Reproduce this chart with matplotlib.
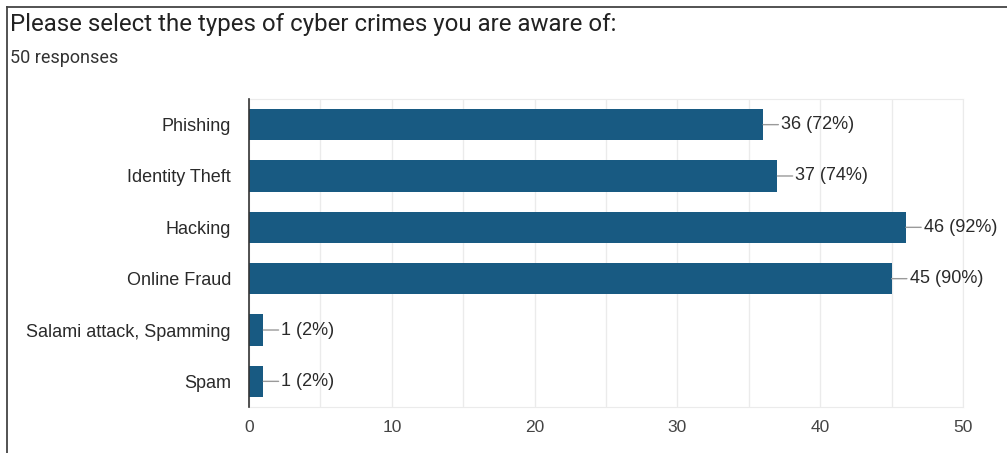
import matplotlib.pyplot as plt
from matplotlib.lines import Line2D

categories = ['Phishing', 'Identity Theft', 'Hacking', 'Online Fraud',
              'Salami attack, Spamming', 'Spam']
counts = [36, 37, 46, 45, 1, 1]
total = 50
xticks = [0, 10, 20, 30, 40, 50]

bar_color = '#185a82'
label_font = ['Liberation Sans', 'DejaVu Sans']

fig = plt.figure(figsize=(10.07, 4.53), dpi=100)
ax = fig.add_axes([0.2473, 0.1015, 0.709, 0.68])

ypos = list(range(len(categories)))
ax.barh(ypos, counts, height=0.61, color=bar_color, zorder=3)

# count + percentage labels with a short leader line
for y, c in zip(ypos, counts):
    ax.annotate(f'{c} ({round(100 * c / total)}%)', xy=(c, y), xytext=(13, 0),
                textcoords='offset points', ha='left', va='center',
                fontsize=13, color='#2a2a2a', family=label_font,
                arrowprops=dict(arrowstyle='-', color='#9a9a9a', lw=1.0,
                                shrinkA=0, shrinkB=0, relpos=(0, 0.5)),
                zorder=4)

ax.set_xlim(0, 50)
ax.set_ylim(len(categories) - 0.5, -0.5)
ax.set_yticks(ypos)
ax.set_yticklabels(categories, fontsize=13, color='#2a2a2a', family=label_font)
ax.set_xticks(xticks)
ax.set_xticklabels([str(t) for t in xticks], fontsize=12.5, color='#444444',
                   family=label_font)
ax.set_xticks(range(5, 50, 10), minor=True)
ax.tick_params(axis='both', which='both', length=0)
ax.tick_params(axis='y', pad=13)
ax.tick_params(axis='x', pad=9)
ax.grid(axis='x', which='both', color='#ebebeb', lw=1.0, zorder=0)

for side in ['top', 'right', 'bottom']:
    ax.spines[side].set_color('#ebebeb')
ax.spines['left'].set_color('#333333')
ax.spines['left'].set_linewidth(1.2)
ax.spines['left'].set_zorder(5)

fig.text(0.0099, 0.945, 'Please select the types of cyber crimes you are aware of:',
         fontsize=17.3, color='#222222', family=['Roboto', 'DejaVu Sans'],
         ha='left', va='center')
fig.text(0.0099, 0.872, '50 responses', fontsize=13, color='#333333',
         family=['Roboto', 'DejaVu Sans'], ha='left', va='center')

# frame around the card (top and left edges)
fig.add_artist(Line2D([0.0065, 1.0], [0.984, 0.984], transform=fig.transFigure,
                      color='#444444', lw=1.3))
fig.add_artist(Line2D([0.0065, 0.0065], [0.0, 0.984], transform=fig.transFigure,
                      color='#444444', lw=1.3))

fig.savefig('out.png', dpi=100)
